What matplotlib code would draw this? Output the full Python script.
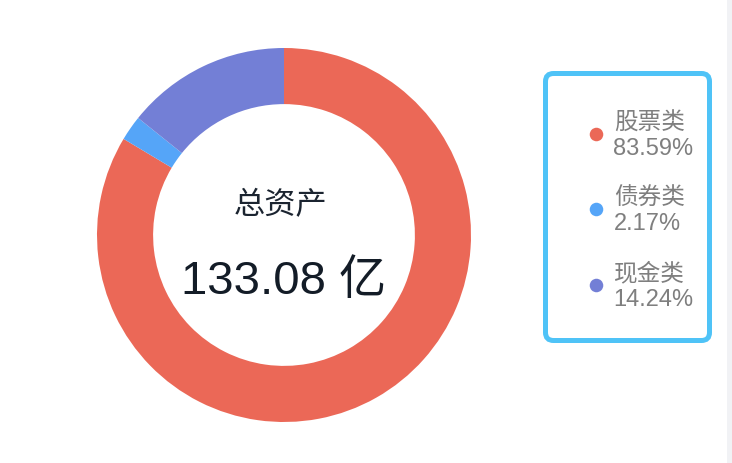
import matplotlib
matplotlib.use("Agg")
import matplotlib.pyplot as plt
from matplotlib.patches import FancyBboxPatch, Rectangle

plt.rcParams['font.family'] = ['Noto Sans CJK SC', 'DejaVu Sans']
NUM_FONT = ['Liberation Sans', 'Noto Sans CJK SC']

categories = ["股票类", "债券类", "现金类"]
shares = [83.59, 2.17, 14.24]
colors = ["#EB6857", "#55A5F8", "#737FD6"]
center_title = "总资产"
total_value = 133.08
total_unit = "亿"

W, H = 732, 464
fig = plt.figure(figsize=(W / 100, H / 100), dpi=100)
ax = fig.add_axes([0, 0, 1, 1])
ax.set_xlim(0, W)
ax.set_ylim(0, H)
ax.set_aspect('equal')
ax.axis('off')

def Y(py):
    return H - py

cx, cy, R = 284, 236, 187
ax.pie(shares, colors=colors, startangle=90, counterclock=False,
       radius=R, center=(cx, Y(cy)),
       wedgeprops=dict(width=R * 0.30, linewidth=0, edgecolor='white'))
ax.set_xlim(0, W)
ax.set_ylim(0, H)

ax.text(cx - 3, Y(205), center_title, ha='center', va='center',
        fontsize=22.5, color='#1b2430')
ax.text(cx, Y(282), f"{total_value:.2f} {total_unit}", ha='center', va='center',
        fontsize=34, color='#131c27', family=NUM_FONT)

# legend box
box = FancyBboxPatch((545.5, Y(341.5)), 709.5 - 545.5, 341.5 - 74.5,
                     boxstyle="round,pad=0,rounding_size=8",
                     facecolor='white', edgecolor='#4FC3F7', linewidth=3.6)
ax.add_patch(box)

dot_y = [134.7, 210, 285.7]
for i, (cat, s, c) in enumerate(zip(categories, shares, colors)):
    ax.scatter([596], [Y(dot_y[i])], s=95, color=c, linewidths=0, zorder=3)
    ax.text(614, Y(dot_y[i] - 11.5), cat, ha='left', va='center',
            fontsize=17, color='#7f7f7f')
    ax.text(613.5, Y(dot_y[i] + 14.5), f"{s:.2f}%", ha='left', va='center',
            fontsize=17, color='#7f7f7f', family=NUM_FONT)

ax.add_patch(Rectangle((727, 0), 5, H, facecolor='#f1f2f5', edgecolor='none'))

fig.savefig("out.png", dpi=100)
